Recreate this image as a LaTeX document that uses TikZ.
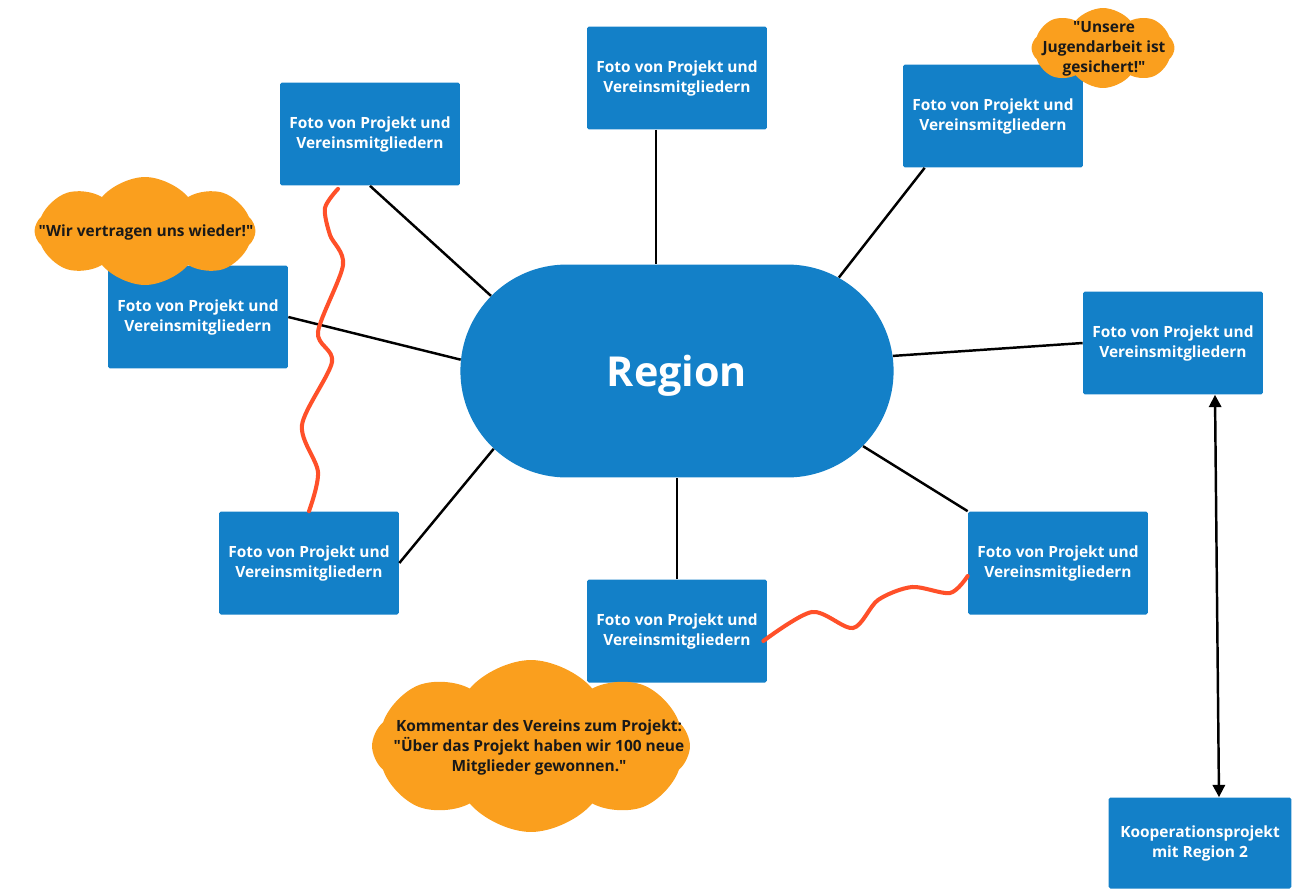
\documentclass[tikz,border=0pt]{standalone}
\usepackage{fontspec}
\setmainfont{Open Sans}[Ligatures=TeXOff]
\usetikzlibrary{calc,shapes,arrows.meta,positioning}
\definecolor{regblue}{HTML}{1380C8}
\definecolor{bubbleorange}{HTML}{FA9F1E}
\definecolor{wavered}{HTML}{FF5029}

\begin{document}
\begin{tikzpicture}[x=0.02cm, y=-0.02cm,
  photo/.style={rectangle, fill=regblue, text=white, rounded corners=1pt, align=center,
    font=\bfseries\fontsize{8.8}{11.4}\selectfont, minimum width=3.6cm, minimum height=2.06cm},
  region/.style={rounded rectangle, fill=regblue, text=white, minimum width=8.9cm,
    minimum height=4.26cm, text depth=0pt, font=\bfseries\fontsize{23.5}{28}\selectfont},
  bubble/.style={cloud, cloud puffs=8, cloud puff arc=100, cloud ignores aspect,
    fill=bubbleorange, inner sep=0pt},
  quote/.style={text=black!90, align=center, font=\bfseries\fontsize{8.8}{11.4}\selectfont},
  spoke/.style={line width=1.4pt},
  wave/.style={draw=wavered, line width=2.3pt, line cap=round},
  arrow/.style={{Triangle[length=7pt,width=7pt]}-{Triangle[length=7pt,width=7pt]}, line width=1.4pt}
]
  \useasboundingbox (0,0) rectangle (1292,890);

  \node[region] (reg) at (677,371) {Region};

  \node[photo] (tc) at (677,78) {Foto von Projekt und\\Vereinsmitgliedern};
  \node[photo] (tl) at (370,134) {Foto von Projekt und\\Vereinsmitgliedern};
  \node[photo] (tr) at (993,116) {Foto von Projekt und\\Vereinsmitgliedern};
  \node[photo] (lf) at (198,317) {Foto von Projekt und\\Vereinsmitgliedern};
  \node[photo] (rt) at (1173,343) {Foto von Projekt und\\Vereinsmitgliedern};
  \node[photo] (bl) at (309,563) {Foto von Projekt und\\Vereinsmitgliedern};
  \node[photo] (br) at (1058,563) {Foto von Projekt und\\Vereinsmitgliedern};
  \node[photo] (bc) at (677,631) {Foto von Projekt und\\Vereinsmitgliedern};
  \node[photo, minimum width=3.66cm, minimum height=1.82cm] (koop) at (1200,843)
    {Kooperationsprojekt\\mit Region 2};

  \draw[spoke] (tl.south) -- (reg.158);
  \draw[spoke] (tc.south -| reg.101) -- (reg.101);
  \draw[spoke] ($(tr.south west)+(22,0)$) -- (reg.30);
  \draw[spoke] (lf.east) -- (reg.177);
  \draw[spoke] (rt.west) -- (reg.4);
  \draw[spoke] (bl.east) -- (reg.203);
  \draw[spoke] (br.north west) -- (reg.338);
  \draw[spoke] (bc.north) -- (reg.south);
  \draw[arrow] ($(rt.south)+(42,0)$) -- ($(koop.north)+(19,0)$);

  \draw[wave] plot[smooth] coordinates {($(tl.south)+(-32,3)$) (325,208) (330,235) (343,265)
    (318,332) (332,362) (302,425) (318,472) (bl.north)};
  \draw[wave] plot[smooth] coordinates {($(bc.east)+(-4,10)$) (812,612) (853,628) (878,600)
    (912,587) (950,593) ($(br.west)+(0,13)$)};

  \node[bubble, minimum width=4.42cm, minimum height=2.16cm] (c1) at (145,231) {};
  \node[quote] (q1) at (146,232) {"Wir vertragen uns wieder!"};
  \node[bubble, minimum width=2.86cm, minimum height=1.6cm] (c2) at (1103,48) {};
  \node[quote] (q2) at (1104,49) {"Unsere\\Jugendarbeit ist\\gesichert!"};
  \node[bubble, minimum width=6.36cm, minimum height=3.44cm] (c3) at (531,746) {};
  \node[quote] (q3) at (539,747) {Kommentar des Vereins zum Projekt:\\"Über das Projekt haben wir 100 neue\\Mitglieder gewonnen."};
\end{tikzpicture}
\end{document}
